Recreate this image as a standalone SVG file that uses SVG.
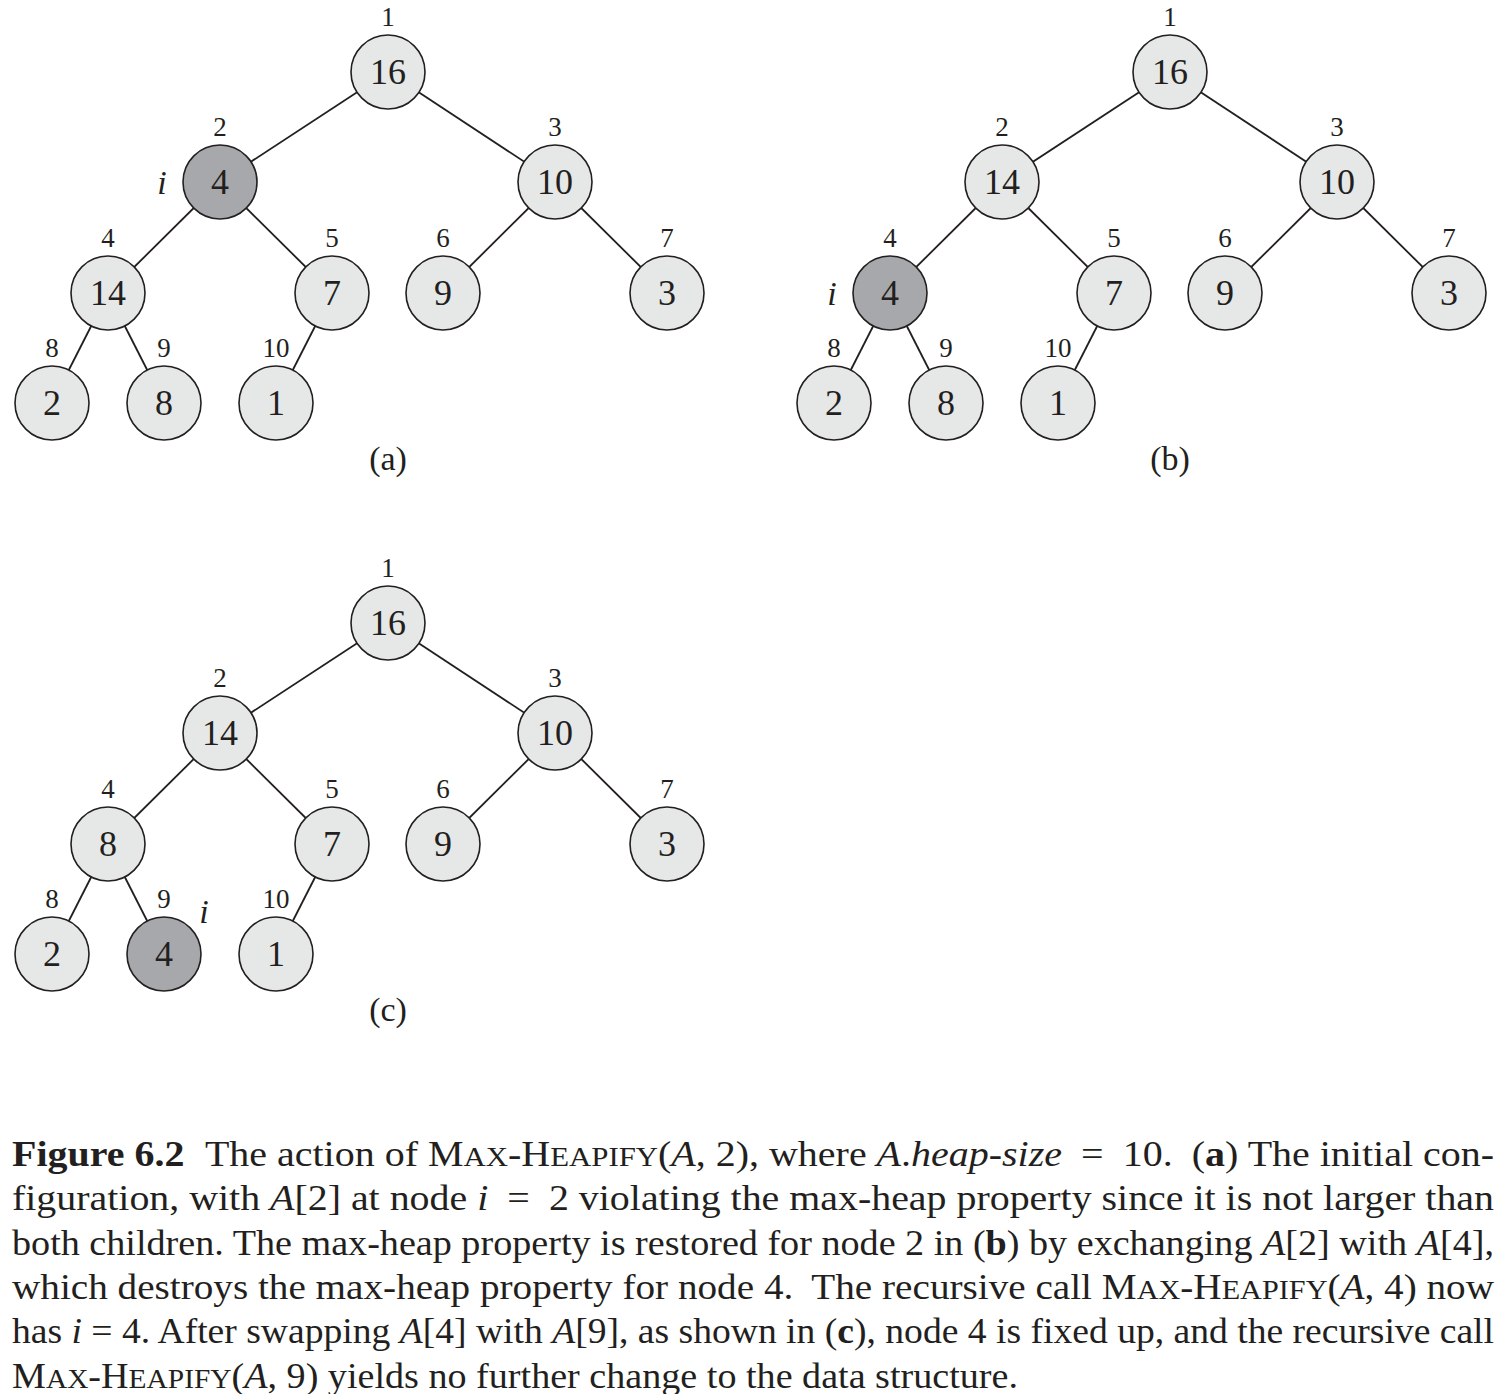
<svg xmlns="http://www.w3.org/2000/svg" width="1508" height="1394" viewBox="0 0 1508 1394" font-family="'Liberation Serif', 'Times New Roman', serif">
<style>
.n{fill:#e6e7e7;stroke:#231f20;stroke-width:1.6}
.d{fill:#a7a8ab;stroke:#231f20;stroke-width:1.6}
.e{stroke:#231f20;stroke-width:1.8;fill:none}
text{font-family:'Liberation Serif','Times New Roman',serif;fill:#231f20}
.v{font-size:36px;text-anchor:middle}
.k{font-size:27px;text-anchor:middle}
.it{font-size:34px;font-style:italic;text-anchor:middle}
.sub{font-size:34px;text-anchor:middle}
.cap{font-size:35px}
.sc{font-size:27px}
.m{font-style:italic}
.b{font-weight:bold}
</style>
<rect width="1508" height="1394" fill="#ffffff"/>
<g id="connectors">
<line class="e" x1="388" y1="72" x2="220" y2="182"/>
<line class="e" x1="388" y1="72" x2="555" y2="182"/>
<line class="e" x1="220" y1="182" x2="108" y2="293"/>
<line class="e" x1="220" y1="182" x2="332" y2="293"/>
<line class="e" x1="555" y1="182" x2="443" y2="293"/>
<line class="e" x1="555" y1="182" x2="667" y2="293"/>
<line class="e" x1="108" y1="293" x2="52" y2="403"/>
<line class="e" x1="108" y1="293" x2="164" y2="403"/>
<line class="e" x1="332" y1="293" x2="276" y2="403"/>
<line class="e" x1="1170" y1="72" x2="1002" y2="182"/>
<line class="e" x1="1170" y1="72" x2="1337" y2="182"/>
<line class="e" x1="1002" y1="182" x2="890" y2="293"/>
<line class="e" x1="1002" y1="182" x2="1114" y2="293"/>
<line class="e" x1="1337" y1="182" x2="1225" y2="293"/>
<line class="e" x1="1337" y1="182" x2="1449" y2="293"/>
<line class="e" x1="890" y1="293" x2="834" y2="403"/>
<line class="e" x1="890" y1="293" x2="946" y2="403"/>
<line class="e" x1="1114" y1="293" x2="1058" y2="403"/>
<line class="e" x1="388" y1="623" x2="220" y2="733"/>
<line class="e" x1="388" y1="623" x2="555" y2="733"/>
<line class="e" x1="220" y1="733" x2="108" y2="844"/>
<line class="e" x1="220" y1="733" x2="332" y2="844"/>
<line class="e" x1="555" y1="733" x2="443" y2="844"/>
<line class="e" x1="555" y1="733" x2="667" y2="844"/>
<line class="e" x1="108" y1="844" x2="52" y2="954"/>
<line class="e" x1="108" y1="844" x2="164" y2="954"/>
<line class="e" x1="332" y1="844" x2="276" y2="954"/>
</g>

<g id="a1"><circle class="n" cx="388" cy="72" r="37"/><text class="v" x="388" y="84">16</text><text class="k" x="388" y="26">1</text></g>
<g id="a2"><circle class="d" cx="220" cy="182" r="37"/><text class="v" x="220" y="194">4</text><text class="k" x="220" y="136">2</text><text class="it" x="162" y="194">i</text></g>
<g id="a3"><circle class="n" cx="555" cy="182" r="37"/><text class="v" x="555" y="194">10</text><text class="k" x="555" y="136">3</text></g>
<g id="a4"><circle class="n" cx="108" cy="293" r="37"/><text class="v" x="108" y="305">14</text><text class="k" x="108" y="247">4</text></g>
<g id="a5"><circle class="n" cx="332" cy="293" r="37"/><text class="v" x="332" y="305">7</text><text class="k" x="332" y="247">5</text></g>
<g id="a6"><circle class="n" cx="443" cy="293" r="37"/><text class="v" x="443" y="305">9</text><text class="k" x="443" y="247">6</text></g>
<g id="a7"><circle class="n" cx="667" cy="293" r="37"/><text class="v" x="667" y="305">3</text><text class="k" x="667" y="247">7</text></g>
<g id="a8"><circle class="n" cx="52" cy="403" r="37"/><text class="v" x="52" y="415">2</text><text class="k" x="52" y="357">8</text></g>
<g id="a9"><circle class="n" cx="164" cy="403" r="37"/><text class="v" x="164" y="415">8</text><text class="k" x="164" y="357">9</text></g>
<g id="a10"><circle class="n" cx="276" cy="403" r="37"/><text class="v" x="276" y="415">1</text><text class="k" x="276" y="357">10</text></g>
<text id="label-a" class="sub" x="388" y="470">(a)</text>

<g id="b1"><circle class="n" cx="1170" cy="72" r="37"/><text class="v" x="1170" y="84">16</text><text class="k" x="1170" y="26">1</text></g>
<g id="b2"><circle class="n" cx="1002" cy="182" r="37"/><text class="v" x="1002" y="194">14</text><text class="k" x="1002" y="136">2</text></g>
<g id="b3"><circle class="n" cx="1337" cy="182" r="37"/><text class="v" x="1337" y="194">10</text><text class="k" x="1337" y="136">3</text></g>
<g id="b4"><circle class="d" cx="890" cy="293" r="37"/><text class="v" x="890" y="305">4</text><text class="k" x="890" y="247">4</text><text class="it" x="832" y="305">i</text></g>
<g id="b5"><circle class="n" cx="1114" cy="293" r="37"/><text class="v" x="1114" y="305">7</text><text class="k" x="1114" y="247">5</text></g>
<g id="b6"><circle class="n" cx="1225" cy="293" r="37"/><text class="v" x="1225" y="305">9</text><text class="k" x="1225" y="247">6</text></g>
<g id="b7"><circle class="n" cx="1449" cy="293" r="37"/><text class="v" x="1449" y="305">3</text><text class="k" x="1449" y="247">7</text></g>
<g id="b8"><circle class="n" cx="834" cy="403" r="37"/><text class="v" x="834" y="415">2</text><text class="k" x="834" y="357">8</text></g>
<g id="b9"><circle class="n" cx="946" cy="403" r="37"/><text class="v" x="946" y="415">8</text><text class="k" x="946" y="357">9</text></g>
<g id="b10"><circle class="n" cx="1058" cy="403" r="37"/><text class="v" x="1058" y="415">1</text><text class="k" x="1058" y="357">10</text></g>
<text id="label-b" class="sub" x="1170" y="470">(b)</text>

<g id="c1"><circle class="n" cx="388" cy="623" r="37"/><text class="v" x="388" y="635">16</text><text class="k" x="388" y="577">1</text></g>
<g id="c2"><circle class="n" cx="220" cy="733" r="37"/><text class="v" x="220" y="745">14</text><text class="k" x="220" y="687">2</text></g>
<g id="c3"><circle class="n" cx="555" cy="733" r="37"/><text class="v" x="555" y="745">10</text><text class="k" x="555" y="687">3</text></g>
<g id="c4"><circle class="n" cx="108" cy="844" r="37"/><text class="v" x="108" y="856">8</text><text class="k" x="108" y="798">4</text></g>
<g id="c5"><circle class="n" cx="332" cy="844" r="37"/><text class="v" x="332" y="856">7</text><text class="k" x="332" y="798">5</text></g>
<g id="c6"><circle class="n" cx="443" cy="844" r="37"/><text class="v" x="443" y="856">9</text><text class="k" x="443" y="798">6</text></g>
<g id="c7"><circle class="n" cx="667" cy="844" r="37"/><text class="v" x="667" y="856">3</text><text class="k" x="667" y="798">7</text></g>
<g id="c8"><circle class="n" cx="52" cy="954" r="37"/><text class="v" x="52" y="966">2</text><text class="k" x="52" y="908">8</text></g>
<g id="c9"><circle class="d" cx="164" cy="954" r="37"/><text class="v" x="164" y="966">4</text><text class="k" x="164" y="908">9</text><text class="it" x="204" y="923">i</text></g>
<g id="c10"><circle class="n" cx="276" cy="954" r="37"/><text class="v" x="276" y="966">1</text><text class="k" x="276" y="908">10</text></g>
<text id="label-c" class="sub" x="388" y="1021">(c)</text>

<g id="caption">
<text class="cap" x="12" y="1166" textLength="1482" lengthAdjust="spacingAndGlyphs"><tspan class="b">Figure 6.2</tspan><tspan dx="18">The action of M</tspan><tspan class="sc">AX</tspan>-H<tspan class="sc">EAPIFY</tspan>(<tspan class="m">A</tspan>, 2), where <tspan class="m">A</tspan>.<tspan class="m">heap-size</tspan><tspan dx="8"> = </tspan><tspan dx="8">10. </tspan><tspan dx="8">(</tspan><tspan class="b">a</tspan>) The initial con-</text>
<text class="cap" x="12" y="1210" textLength="1482" lengthAdjust="spacingAndGlyphs">figuration, with <tspan class="m">A</tspan>[2] at node <tspan class="m">i</tspan><tspan dx="8"> = </tspan><tspan dx="8">2 violating the max-heap property since it is not larger than</tspan></text>
<text class="cap" x="12" y="1255" textLength="1482" lengthAdjust="spacingAndGlyphs">both children. The max-heap property is restored for node 2 in (<tspan class="b">b</tspan>) by exchanging <tspan class="m">A</tspan>[2] with <tspan class="m">A</tspan>[4],</text>
<text class="cap" x="12" y="1299" textLength="1482" lengthAdjust="spacingAndGlyphs">which destroys the max-heap property for node 4.<tspan dx="8"> The recursive call M</tspan><tspan class="sc">AX</tspan>-H<tspan class="sc">EAPIFY</tspan>(<tspan class="m">A</tspan>, 4) now</text>
<text class="cap" x="12" y="1343" textLength="1482" lengthAdjust="spacingAndGlyphs">has <tspan class="m">i</tspan> = 4. After swapping <tspan class="m">A</tspan>[4] with <tspan class="m">A</tspan>[9], as shown in (<tspan class="b">c</tspan>), node 4 is fixed up, and the recursive call</text>
<text class="cap" x="12" y="1388" textLength="1006" lengthAdjust="spacingAndGlyphs">M<tspan class="sc">AX</tspan>-H<tspan class="sc">EAPIFY</tspan>(<tspan class="m">A</tspan>, 9) yields no further change to the data structure.</text>
</g>
</svg>
